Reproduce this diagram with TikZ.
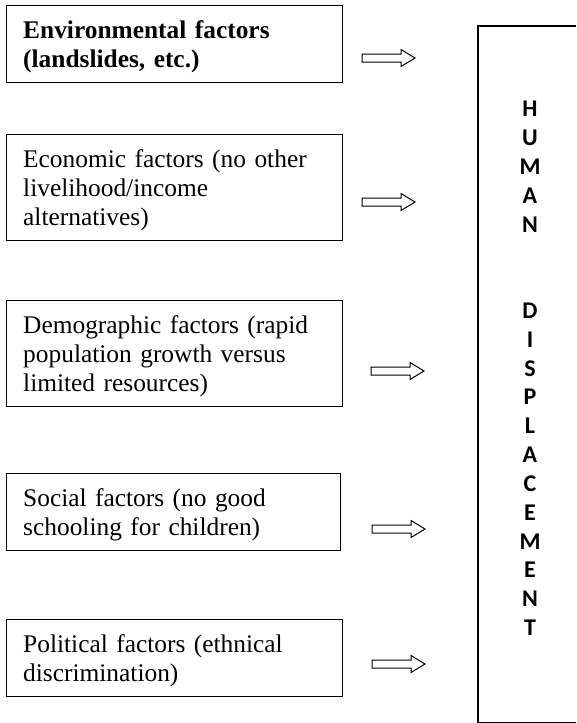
\documentclass[tikz,border=0pt]{standalone}
\usepackage{fontspec}
\setmainfont{Liberation Serif}[BoldFont={Liberation Serif Bold}]
\newfontfamily\lettersfont{Carlito}[BoldFont={Carlito Bold}]
\begin{document}
\begin{tikzpicture}[x=1pt,y=-1pt,
  factorbox/.style={draw, line width=1.1pt, inner sep=0pt, anchor=north west, minimum width=336pt},
  factortext/.style={inner sep=0pt, anchor=north west, text width=316pt, align=left,
    font=\fontsize{25.4}{29.3}\selectfont},
  resultbox/.style={inner sep=0pt, anchor=north west},
  resultedge/.style={line width=1.1pt},
  lettertext/.style={inner sep=0pt, anchor=north, align=center,
    font=\lettersfont\bfseries\fontsize{24}{28.83}\selectfont},
  blockarrow/.pic={\draw[line width=1pt, line join=miter]
    (0,-4) -- (39,-4) -- (39,-8.5) -- (53,0) -- (39,8.5) -- (39,4) -- (0,4) -- cycle;}
]
\useasboundingbox (0,0) rectangle (576,723);

% factor boxes
\node[factorbox, minimum height=77pt]  (b1) at (5.5,5) {};
\node[factorbox, minimum height=106pt] (b2) at (5.5,134) {};
\node[factorbox, minimum height=106pt] (b3) at (5.5,300) {};
\node[factorbox, minimum height=77pt, minimum width=334pt] (b4) at (5.5,473) {};
\node[factorbox, minimum height=77pt]  (b5) at (5.5,619) {};

\node[factortext] (t1) at (23,17.5) {\strut\textbf{Environmental factors}\\\textbf{(landslides, etc.)}};
\node[factortext] (t2) at (23,146.5) {\strut Economic factors (no other\\livelihood/income\\alternatives)};
\node[factortext] (t3) at (23,312.5) {\strut Demographic factors (rapid\\population growth versus\\limited resources)};
\node[factortext] (t4) at (23,485.5) {\strut Social factors (no good\\schooling for children)};
\node[factortext] (t5) at (23,631.5) {\strut Political factors (ethnical\\discrimination)};

% result box: its right side lies beyond the picture's edge
\node[resultbox, minimum width=98pt, minimum height=696pt] (hd) at (478,26) {};
\draw[resultedge] (hd.north east) -- (hd.north west) -- (hd.south west) -- (hd.south east);
\node[lettertext] (hdtext) at (530,96.3) {\strut H\\U\\M\\A\\N\\~\\~\\D\\I\\S\\P\\L\\A\\C\\E\\M\\E\\N\\T};

% block arrows
\coordinate (a1) at (362,58);
\coordinate (a2) at (362,202);
\coordinate (a3) at (371,371);
\coordinate (a4) at (372,529);
\coordinate (a5) at (372,664);
\pic at (a1) {blockarrow};
\pic at (a2) {blockarrow};
\pic at (a3) {blockarrow};
\pic at (a4) {blockarrow};
\pic at (a5) {blockarrow};
\end{tikzpicture}
\end{document}
